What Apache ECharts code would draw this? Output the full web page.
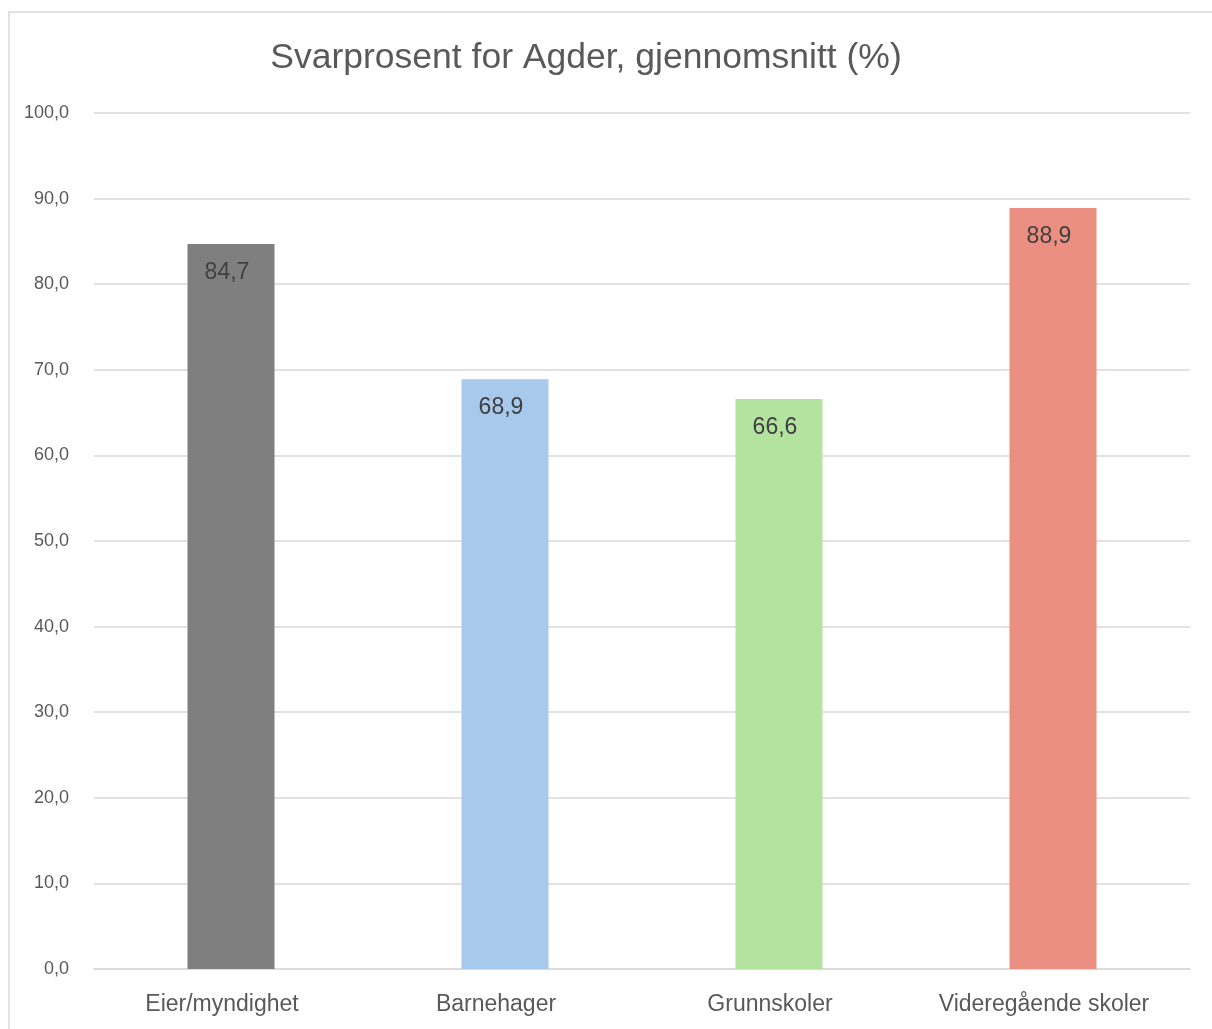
<!DOCTYPE html>
<html>
<head>
<meta charset="utf-8">
<style>
html,body{margin:0;padding:0;background:#fff;}
#chart{width:1212px;height:1029px;}
</style>
<script src="https://cdn.jsdelivr.net/npm/echarts@6/dist/echarts.min.js"></script>
</head>
<body>
<div id="chart"></div>
<script>
const titleText = 'Svarprosent for Agder, gjennomsnitt (%)';
const categories = ['Eier/myndighet', 'Barnehager', 'Grunnskoler', 'Videregående skoler'];
const values = [84.7, 68.9, 66.6, 88.9];
const barColors = ['#7f7f7f', '#a6c9ec', '#b4e3a0', '#eb8f82'];
const yTicks = [0, 10, 20, 30, 40, 50, 60, 70, 80, 90, 100];

const FONT = '"Liberation Sans Narrow", "Liberation Sans", Arial, sans-serif';
const fmt = v => v.toFixed(1).replace('.', ',');

const chart = echarts.init(document.getElementById('chart'));
chart.setOption({
  animation: false,
  backgroundColor: '#ffffff',
  graphic: [
    {
      type: 'polyline',
      shape: { points: [[9, 1029], [9, 12], [1212, 12]] },
      style: { stroke: '#d9d9d9', lineWidth: 1.5, fill: null },
      silent: true
    },
    {
      type: 'text',
      x: 586, y: 58,
      style: {
        text: titleText,
        font: '35.5px ' + FONT,
        fill: '#595959',
        textAlign: 'center',
        textVerticalAlign: 'middle'
      }
    }
  ],
  grid: { left: 94, right: 22, top: 113, bottom: 60, containLabel: false },
  xAxis: {
    type: 'category',
    data: categories,
    axisLine: { show: true, lineStyle: { color: '#d9d9d9', width: 1.5 } },
    axisTick: { show: false },
    axisLabel: {
      color: '#595959',
      fontFamily: FONT,
      fontSize: 23,
      margin: 24,
      padding: [0, 18, 0, 0]
    }
  },
  yAxis: {
    type: 'value',
    min: yTicks[0],
    max: yTicks[yTicks.length - 1],
    interval: 10,
    axisLine: { show: false },
    axisTick: { show: false },
    splitLine: { lineStyle: { color: '#d9d9d9', width: 1.5 } },
    axisLabel: {
      color: '#595959',
      fontFamily: FONT,
      fontSize: 18,
      margin: 25,
      padding: [0, 0, 6, 0],
      formatter: v => fmt(v)
    }
  },
  series: [{
    type: 'bar',
    barWidth: 87,
    data: values.map((v, i) => ({ value: v, itemStyle: { color: barColors[i] } })),
    label: {
      show: true,
      position: 'insideTop',
      distance: 17,
      offset: [-4, 0],
      color: '#404040',
      fontFamily: FONT,
      fontSize: 23,
      formatter: p => fmt(p.value)
    }
  }]
});
</script>
</body>
</html>
